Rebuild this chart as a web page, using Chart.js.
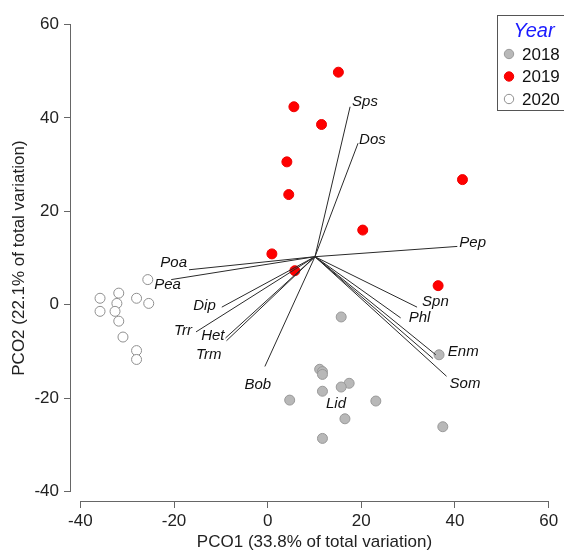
<!DOCTYPE html>
<html>
<head>
<meta charset="utf-8">
<script src="https://cdn.jsdelivr.net/npm/chart.js"></script>
<style>
  body { margin: 0; background: #fff; }
  #wrap { width: 564px; height: 554px; position: relative; }
</style>
</head>
<body>
<div id="wrap"><canvas id="pcoChart"></canvas></div>
<script>
const FONT = '"Liberation Sans", Arial, sans-serif';

const xTicks = [-40, -20, 0, 20, 40, 60];
const yTicks = [-40, -20, 0, 20, 40, 60];

// sample scores
const years = ['2018', '2019', '2020'];
const x2018 = [15.7, 36.6, 11.1, 11.7, 11.7, 17.4, 15.7, 11.7, 4.7, 23.1, 16.5, 37.4, 11.7];
const y2018 = [-2.6, -10.7, -13.8, -14.3, -14.9, -16.8, -17.6, -18.5, -20.4, -20.6, -24.4, -26.1, -28.6];
const x2019 = [15.1, 5.6, 11.5, 4.1, 4.5, 41.6, 20.3, 0.9, 5.8, 36.4];
const y2019 = [49.8, 42.4, 38.6, 30.6, 23.6, 26.8, 16.0, 10.9, 7.3, 4.1];
const x2020 = [-25.6, -35.8, -31.8, -28.0, -25.4, -32.2, -35.8, -32.6, -31.8, -30.9, -28.0, -28.0];
const y2020 = [5.4, 1.4, 2.5, 1.4, 0.3, 0.3, -1.4, -1.4, -3.5, -6.9, -9.8, -11.7];

// species vectors (end points), all drawn from the same origin
const vecOrigin = [10.1, 10.3];
const vecNames = ['Sps', 'Dos', 'Pep', 'Spn', 'Phl', 'Enm', 'Lid', 'Som', 'Poa', 'Pea', 'Dip', 'Trr', 'Het', 'Trm', 'Bob'];
const vecX = [17.6, 19.3, 40.5, 31.9, 28.4, 35.9, 35.3, 38.2, -16.8, -20.6, -9.8, -15.3, -9.0, -8.8, -0.6];
const vecY = [42.4, 34.6, 12.5, -0.5, -2.8, -10.7, -11.5, -15.3, 7.5, 5.4, -0.5, -5.8, -7.1, -7.7, -13.2];

// label placement (px from the vector end)
const labelNudge = {
  Sps: [2, -5, 'left'], Dos: [1, -3, 'left'], Pep: [2, -4, 'left'],
  Spn: [5, -5, 'left'], Phl: [8, 0, 'left'], Enm: [12, -3, 'left'],
  Lid: [-97, 45, 'center'], Som: [3, 8, 'left'],
  Poa: [-2, -7, 'right'], Pea: [-17, 5, 'left'], Dip: [-6, -1, 'right'],
  Trr: [-4, -1, 'right'], Het: [-1, -2, 'right'], Trm: [-5, 14, 'right'],
  Bob: [-7, 18, 'center']
};

const yearStyle = {
  '2018': { fill: '#b8b8b8', stroke: '#999999' },
  '2019': { fill: '#ff0000', stroke: '#ee0000' },
  '2020': { fill: '#ffffff', stroke: '#8f8f8f' }
};

const toPts = (xs, ys) => xs.map((v, i) => ({ x: v, y: ys[i] }));

const datasets = [];
vecNames.forEach((n, i) => {
  datasets.push({
    label: n,
    data: [{ x: vecOrigin[0], y: vecOrigin[1] }, { x: vecX[i], y: vecY[i] }],
    showLine: true,
    borderColor: '#2a2a2a',
    borderWidth: 1,
    pointRadius: 0
  });
});
[[x2018, y2018], [x2019, y2019], [x2020, y2020]].forEach((d, i) => {
  const st = yearStyle[years[i]];
  datasets.push({
    label: years[i],
    data: toPts(d[0], d[1]),
    pointRadius: 5,
    pointBackgroundColor: st.fill,
    pointBorderColor: st.stroke,
    pointBorderWidth: 1
  });
});

const extras = {
  id: 'extras',
  afterDraw(chart) {
    const ctx = chart.ctx;
    const xs = chart.scales.x, ys = chart.scales.y;
    const area = chart.chartArea;
    ctx.save();

    // R style axis lines, only from first to last tick
    ctx.strokeStyle = '#666';
    ctx.lineWidth = 1;
    const ax = Math.round(area.left) - 0.5;
    const ay = Math.round(area.bottom) + 0.5;
    ctx.beginPath();
    ctx.moveTo(ax, ys.getPixelForValue(yTicks[0]));
    ctx.lineTo(ax, ys.getPixelForValue(yTicks[yTicks.length - 1]));
    ctx.moveTo(xs.getPixelForValue(xTicks[0]), ay);
    ctx.lineTo(xs.getPixelForValue(xTicks[xTicks.length - 1]), ay);
    ctx.stroke();

    // axis titles
    ctx.fillStyle = '#222';
    ctx.font = '17px ' + FONT;
    ctx.textAlign = 'center';
    ctx.textBaseline = 'middle';
    ctx.fillText('PCO1 (33.8% of total variation)', (xs.getPixelForValue(-40) + xs.getPixelForValue(60)) / 2, 542);
    ctx.save();
    ctx.translate(19, (ys.getPixelForValue(-40) + ys.getPixelForValue(60)) / 2);
    ctx.rotate(-Math.PI / 2);
    ctx.fillText('PCO2 (22.1% of total variation)', 0, 0);
    ctx.restore();

    // vector labels
    ctx.font = 'italic 15px ' + FONT;
    ctx.fillStyle = '#111';
    vecNames.forEach((n, i) => {
      const nd = labelNudge[n];
      ctx.textAlign = nd[2];
      ctx.fillText(n, xs.getPixelForValue(vecX[i]) + nd[0], ys.getPixelForValue(vecY[i]) + nd[1]);
    });

    // legend box
    ctx.strokeStyle = '#555';
    ctx.strokeRect(497.5, 15.5, 80, 95);
    ctx.font = 'italic 20px ' + FONT;
    ctx.fillStyle = '#1a1aff';
    ctx.textAlign = 'center';
    ctx.fillText('Year', 534, 31);
    ctx.font = '17px ' + FONT;
    ctx.textAlign = 'left';
    years.forEach((yr, i) => {
      const cy = 54 + i * 22.5;
      ctx.beginPath();
      ctx.arc(509, cy, 4.7, 0, Math.PI * 2);
      ctx.fillStyle = yearStyle[yr].fill;
      ctx.fill();
      ctx.strokeStyle = yearStyle[yr].stroke;
      ctx.stroke();
      ctx.fillStyle = '#111';
      ctx.fillText(yr, 522, cy + 1);
    });
    ctx.restore();
  }
};

new Chart(document.getElementById('pcoChart'), {
  type: 'scatter',
  data: { datasets: datasets },
  options: {
    responsive: true,
    maintainAspectRatio: false,
    animation: false,
    layout: { padding: { top: 9.5, right: 0.5, left: 0, bottom: 0 } },
    plugins: {
      legend: { display: false },
      tooltip: { enabled: false }
    },
    scales: {
      x: {
        type: 'linear',
        min: -42,
        max: 62,
        afterBuildTicks: a => { a.ticks = xTicks.map(v => ({ value: v })); },
        afterFit: s => { s.height = 53; },
        grid: { drawOnChartArea: false, tickLength: 7, color: '#666' },
        border: { display: false },
        ticks: { color: '#222', font: { size: 17, family: FONT }, padding: 3, maxRotation: 0, autoSkip: false }
      },
      y: {
        type: 'linear',
        min: -42,
        max: 62,
        afterBuildTicks: a => { a.ticks = yTicks.map(v => ({ value: v })); },
        afterFit: s => { s.width = 71; },
        grid: { drawOnChartArea: false, tickLength: 7, color: '#666' },
        border: { display: false },
        ticks: { color: '#222', font: { size: 17, family: FONT }, padding: 5, autoSkip: false }
      }
    }
  },
  plugins: [extras]
});
</script>
</body>
</html>
